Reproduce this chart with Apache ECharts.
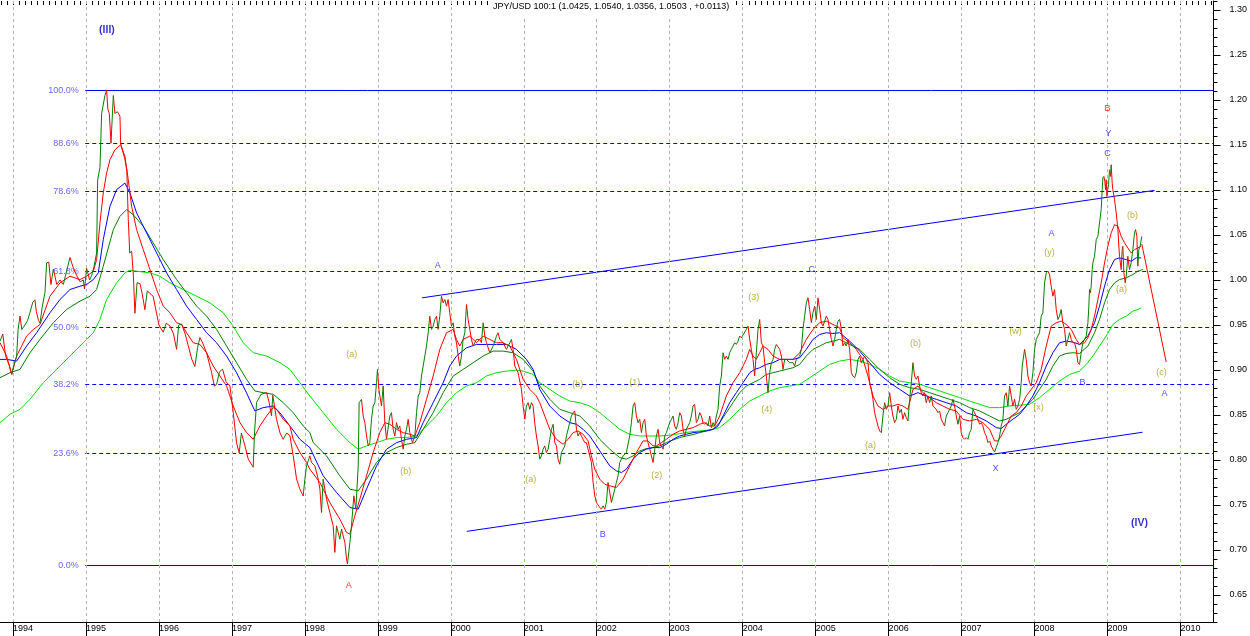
<!DOCTYPE html>
<html>
<head>
<meta charset="utf-8">
<title>JPY/USD 100:1</title>
<script src="https://cdn.jsdelivr.net/npm/echarts@6/dist/echarts.min.js"></script>
<style>
  html, body { margin: 0; padding: 0; background: #fff; }
  #main { width: 1250px; height: 636px; }
</style>
</head>
<body>
<div id="main"></div>
<script>
// weekly-ish closes, [decimal year, price]
const price = [
  [1993.822,0.932],[1993.86,0.94],[1993.90,0.915],[1993.95,0.905],[1993.982,0.895],[1994.01,0.905],[1994.05,0.915],[1994.07,0.945],[1994.096,0.960],[1994.12,0.945],[1994.164,0.950],[1994.20,0.955],[1994.233,0.964],[1994.27,0.975],[1994.301,0.978],[1994.32,0.965],[1994.35,0.955],[1994.37,0.952],[1994.40,0.97],[1994.438,0.986],[1994.461,1.019],[1994.49,1.020],[1994.52,0.995],[1994.553,1.012],[1994.60,0.995],[1994.644,1.000],[1994.69,0.995],[1994.735,1.010],[1994.781,1.025],[1994.82,1.015],[1994.872,1.005],[1994.92,0.998],[1994.964,1.000],[1994.98,0.99],[1995.009,1.013],[1995.05,1.00],[1995.078,1.005],[1995.11,1.015],[1995.146,1.030],[1995.160,1.111],[1995.192,1.125],[1995.215,1.185],[1995.260,1.205],[1995.283,1.211],[1995.30,1.19],[1995.320,1.185],[1995.343,1.152],[1995.36,1.18],[1995.375,1.205],[1995.397,1.185],[1995.43,1.187],[1995.466,1.182],[1995.475,1.152],[1995.534,1.134],[1995.56,1.122],[1995.580,1.067],[1995.60,1.03],[1995.626,1.032],[1995.65,1.005],[1995.671,0.963],[1995.70,0.997],[1995.740,0.996],[1995.77,0.985],[1995.808,0.967],[1995.84,0.988],[1995.877,0.985],[1995.92,0.982],[1995.968,0.963],[1996.00,0.950],[1996.059,0.942],[1996.10,0.952],[1996.151,0.949],[1996.20,0.940],[1996.242,0.923],[1996.27,0.950],[1996.311,0.951],[1996.36,0.940],[1996.402,0.927],[1996.45,0.912],[1996.493,0.904],[1996.53,0.925],[1996.562,0.936],[1996.60,0.930],[1996.653,0.919],[1996.722,0.897],[1996.76,0.882],[1996.790,0.884],[1996.83,0.898],[1996.872,0.901],[1996.92,0.887],[1996.973,0.882],[1997.018,0.853],[1997.064,0.819],[1997.100,0.808],[1997.13,0.830],[1997.178,0.816],[1997.224,0.801],[1997.292,0.792],[1997.31,0.830],[1997.338,0.864],[1997.40,0.873],[1997.475,0.875],[1997.51,0.864],[1997.543,0.849],[1997.56,0.872],[1997.612,0.845],[1997.66,0.830],[1997.703,0.823],[1997.75,0.830],[1997.795,0.827],[1997.84,0.805],[1997.886,0.779],[1997.93,0.768],[1997.977,0.760],
  [1998.000,0.7787],[1998.023,0.7935],[1998.068,0.8046],[1998.091,0.7972],[1998.137,0.7935],[1998.183,0.7787],[1998.206,0.7676],[1998.228,0.7417],[1998.251,0.7787],[1998.297,0.7565],[1998.342,0.7417],[1998.388,0.7269],[1998.411,0.6973],[1998.434,0.7269],[1998.479,0.7121],[1998.502,0.7232],[1998.548,0.7084],[1998.571,0.6899],[1998.584,0.6844],[1998.617,0.7084],[1998.639,0.7269],[1998.671,0.7602],[1998.699,0.7454],[1998.731,0.7935],[1998.744,0.8637],[1998.776,0.8674],[1998.799,0.8489],[1998.822,0.8415],[1998.845,0.8267],[1998.868,0.8157],[1998.890,0.8193],[1998.913,0.8452],[1998.936,0.8600],[1998.959,0.8637],[1998.982,0.8859],[1998.995,0.9007],[1999.014,0.8785],[1999.050,0.8600],[1999.073,0.8822],[1999.096,0.8415],[1999.119,0.8230],[1999.164,0.8489],[1999.187,0.8526],[1999.210,0.8341],[1999.233,0.8267],[1999.256,0.8415],[1999.279,0.8341],[1999.301,0.8378],[1999.324,0.8230],[1999.347,0.8120],[1999.370,0.8267],[1999.393,0.8341],[1999.416,0.8452],[1999.438,0.8304],[1999.475,0.8193],[1999.507,0.8267],[1999.530,0.8526],[1999.553,0.8711],[1999.575,0.8748],[1999.598,0.8933],[1999.621,0.9044],[1999.667,0.9266],[1999.690,0.9414],[1999.712,0.9598],[1999.735,0.9451],[1999.758,0.9488],[1999.781,0.9561],[1999.804,0.9598],[1999.826,0.9451],[1999.849,0.9598],[1999.872,0.9820],[1999.895,0.9746],[1999.918,0.9783],[1999.941,0.9709],[1999.963,0.9783],[1999.986,0.9635],[2000.009,0.9488],[2000.032,0.9525],[2000.055,0.9377],[2000.078,0.9303],[2000.101,0.9155],[2000.123,0.9044],[2000.146,0.9155],[2000.169,0.9340],[2000.192,0.9414],[2000.215,0.9728],[2000.237,0.9561],[2000.260,0.9451],[2000.283,0.9340],[2000.306,0.9266],[2000.352,0.9340],[2000.397,0.9340],[2000.420,0.9303],[2000.443,0.9525],[2000.466,0.9377],[2000.489,0.9303],[2000.534,0.9192],[2000.580,0.9266],[2000.626,0.9377],[2000.648,0.9414],[2000.671,0.9340],[2000.717,0.9303],[2000.763,0.9229],[2000.808,0.9303],[2000.831,0.9340],[2000.854,0.9229],[2000.877,0.9044],[2000.922,0.8970],[2000.968,0.8785],[2000.991,0.8600],[2001.014,0.8452],[2001.036,0.8600],[2001.059,0.8637],[2001.082,0.8563],[2001.105,0.8637],[2001.128,0.8600],[2001.150,0.8415],[2001.173,0.8267],[2001.196,0.8157],[2001.219,0.8009],
  [2001.242,0.8046],[2001.265,0.8120],[2001.288,0.8157],[2001.310,0.8083],[2001.333,0.8120],[2001.356,0.8230],[2001.379,0.8341],[2001.402,0.8397],[2001.425,0.8193],[2001.448,0.8157],[2001.470,0.8009],[2001.493,0.7953],[2001.516,0.8083],[2001.539,0.8120],[2001.562,0.8157],[2001.585,0.8267],[2001.630,0.8415],[2001.653,0.8489],[2001.676,0.8526],[2001.699,0.8545],[2001.722,0.8341],[2001.744,0.8267],[2001.767,0.8304],[2001.790,0.8267],[2001.813,0.8230],[2001.836,0.8193],[2001.858,0.8193],[2001.881,0.8120],[2001.904,0.8046],[2001.927,0.7972],[2001.950,0.7750],[2001.973,0.7602],[2001.995,0.7528],[2002.041,0.7473],[2002.064,0.7454],[2002.087,0.7491],[2002.110,0.7454],[2002.132,0.7528],[2002.155,0.7750],[2002.178,0.7731],[2002.201,0.7528],[2002.224,0.7602],[2002.247,0.7676],[2002.269,0.7750],[2002.292,0.7824],[2002.315,0.7972],[2002.338,0.8009],[2002.361,0.8046],[2002.406,0.8083],[2002.452,0.8267],[2002.475,0.8415],[2002.498,0.8600],[2002.521,0.8637],[2002.543,0.8489],[2002.566,0.8415],[2002.589,0.8452],[2002.612,0.8304],[2002.635,0.8415],[2002.658,0.8452],[2002.680,0.8267],[2002.703,0.8193],[2002.726,0.8120],[2002.749,0.8046],[2002.772,0.7972],[2002.795,0.8120],[2002.817,0.8267],[2002.840,0.8341],[2002.863,0.8193],[2002.886,0.8157],[2002.909,0.8120],[2002.932,0.8267],[2002.954,0.8304],[2003.000,0.8415],[2003.023,0.8452],[2003.046,0.8489],[2003.068,0.8378],[2003.091,0.8341],[2003.114,0.8415],[2003.137,0.8526],[2003.160,0.8489],[2003.183,0.8341],[2003.205,0.8267],[2003.228,0.8341],[2003.251,0.8378],[2003.274,0.8415],[2003.297,0.8489],[2003.320,0.8600],[2003.342,0.8619],[2003.365,0.8415],[2003.388,0.8452],[2003.411,0.8526],[2003.434,0.8489],[2003.457,0.8415],[2003.479,0.8397],[2003.502,0.8415],[2003.525,0.8378],[2003.548,0.8489],[2003.571,0.8360],[2003.594,0.8415],[2003.616,0.8378],[2003.639,0.8489],[2003.662,0.8563],[2003.685,0.8822],[2003.708,0.8933],[2003.731,0.9192],[2003.753,0.9118],[2003.776,0.9155],[2003.799,0.9118],[2003.822,0.9192],[2003.845,0.9229],[2003.867,0.9247],[2003.890,0.9303],[2003.913,0.9284],[2003.936,0.9321],[2003.959,0.9377],[2003.982,0.9358],[2004.005,0.9358],[2004.050,0.9451],[2004.073,0.9488],[2004.096,0.9340],[2004.119,0.9229],[2004.142,0.9118],[2004.164,0.8933],[2004.187,0.9192],[2004.210,0.9451],[2004.233,0.9561],[2004.256,0.9303],[2004.279,0.9266],[2004.301,0.9081],[2004.324,0.8933],[2004.347,0.8748],[2004.370,0.8970],[2004.393,0.9081],[2004.416,0.9118],[2004.438,0.9229],[2004.461,0.9284],[2004.484,0.9266],[2004.507,0.9229],[2004.530,0.9155],[2004.553,0.9007],[2004.575,0.9118],[2004.598,0.9118],[2004.644,0.9081],[2004.690,0.9081],[2004.712,0.9044],[2004.735,0.9118],[2004.781,0.9155],[2004.804,0.9229],[2004.826,0.9451],[2004.849,0.9598],[2004.872,0.9746],[2004.895,0.9802],[2004.918,0.9672],[2004.941,0.9525],[2004.963,0.9635],[2004.986,0.9709],[2005.009,0.9561],[2005.032,0.9802],[2005.055,0.9672],[2005.078,0.9525],[2005.100,0.9488],[2005.123,0.9543],[2005.146,0.9598],[2005.169,0.9561],[2005.192,0.9451],[2005.215,0.9340],[2005.238,0.9266],[2005.260,0.9340],[2005.283,0.9451],[2005.306,0.9543],[2005.329,0.9561],
  [2005.352,0.9451],[2005.374,0.9266],[2005.397,0.9303],[2005.420,0.9266],[2005.443,0.9340],[2005.466,0.9229],[2005.489,0.8970],[2005.511,0.8933],[2005.534,0.8914],[2005.557,0.8970],[2005.580,0.9118],[2005.603,0.9155],[2005.626,0.9081],[2005.648,0.9118],[2005.671,0.9155],[2005.694,0.9118],[2005.717,0.9081],[2005.740,0.8859],[2005.763,0.8785],[2005.785,0.8674],[2005.808,0.8526],[2005.831,0.8452],[2005.854,0.8378],[2005.877,0.8323],[2005.900,0.8304],[2005.922,0.8489],[2005.945,0.8637],[2005.968,0.8563],[2005.991,0.8600],[2006.014,0.8748],[2006.037,0.8600],[2006.059,0.8489],[2006.082,0.8415],[2006.105,0.8452],[2006.128,0.8600],[2006.151,0.8526],[2006.174,0.8563],[2006.196,0.8452],[2006.219,0.8526],[2006.242,0.8471],[2006.265,0.8434],[2006.288,0.8674],[2006.311,0.8859],[2006.333,0.9081],[2006.356,0.8933],[2006.379,0.8896],[2006.402,0.8933],[2006.425,0.8822],[2006.447,0.8748],[2006.470,0.8711],[2006.493,0.8748],[2006.516,0.8637],[2006.539,0.8711],[2006.562,0.8637],[2006.584,0.8711],[2006.607,0.8600],[2006.630,0.8582],[2006.653,0.8563],[2006.676,0.8526],[2006.699,0.8545],[2006.721,0.8452],[2006.744,0.8415],[2006.767,0.8378],[2006.790,0.8489],[2006.813,0.8526],[2006.836,0.8563],[2006.858,0.8600],[2006.881,0.8674],[2006.904,0.8600],[2006.927,0.8489],[2006.950,0.8397],[2006.973,0.8489],[2006.995,0.8304],[2007.018,0.8249],[2007.041,0.8230],[2007.064,0.8249],[2007.087,0.8230],[2007.110,0.8304],[2007.132,0.8341],[2007.155,0.8563],[2007.178,0.8526],[2007.201,0.8489],[2007.224,0.8452],[2007.247,0.8397],[2007.269,0.8415],[2007.292,0.8378],[2007.315,0.8304],[2007.338,0.8267],[2007.361,0.8193],[2007.384,0.8212],[2007.406,0.8157],[2007.429,0.8120],[2007.452,0.8090],[2007.475,0.8138],[2007.498,0.8193],[2007.521,0.8267],[2007.543,0.8378],[2007.566,0.8452],[2007.589,0.8711],[2007.612,0.8748],[2007.635,0.8600],[2007.658,0.8822],[2007.680,0.8711],[2007.703,0.8600],[2007.726,0.8674],[2007.749,0.8563],[2007.772,0.8600],[2007.795,0.8674],[2007.817,0.8859],[2007.831,0.9044],[2007.863,0.9229],[2007.886,0.9118],[2007.909,0.8933],[2007.932,0.8859],[2007.954,0.8822],[2007.977,0.8970],[2008.000,0.9229],[2008.023,0.9340],[2008.046,0.9377],[2008.068,0.9414],[2008.091,0.9598],[2008.114,0.9635],[2008.137,0.9968],[2008.160,1.0079],[2008.183,1.0098],[2008.205,1.0061],[2008.228,0.9931],[2008.251,0.9820],[2008.274,0.9894],[2008.297,0.9672],[2008.320,0.9561],[2008.342,0.9598],[2008.365,0.9672],[2008.388,0.9525],[2008.411,0.9451],[2008.434,0.9266],[2008.457,0.9340],[2008.480,0.9414],[2008.502,0.9340],[2008.525,0.9303],[2008.548,0.9303],[2008.571,0.9229],[2008.594,0.9081],[2008.616,0.9062],
  [2008.639,0.9192],[2008.662,0.9303],[2008.685,0.9303],[2008.708,0.9377],[2008.731,0.9524],[2008.744,0.9709],[2008.753,0.9894],[2008.765,0.9857],[2008.776,0.9931],[2008.790,1.0116],[2008.799,1.0190],[2008.822,1.0264],[2008.845,1.0449],[2008.868,1.0486],[2008.890,1.0634],[2008.913,1.0782],[2008.927,1.1004],[2008.936,1.1133],[2008.950,1.1151],[2008.963,1.1096],[2008.973,1.1004],[2008.982,1.1114],[2008.991,1.0929],[2009.004,1.1004],[2009.014,1.1059],[2009.027,1.1225],[2009.041,1.1151],[2009.050,1.1281],[2009.064,1.1077],[2009.073,1.1004],[2009.096,1.0893],[2009.119,1.0745],[2009.142,1.0560],[2009.164,1.0264],[2009.187,1.0116],[2009.201,1.0338],[2009.210,1.0375],[2009.224,1.0079],[2009.242,0.9968],[2009.256,1.0042],[2009.278,1.0264],[2009.301,1.0116],[2009.324,1.0190],[2009.347,1.0338],[2009.370,1.0523],[2009.384,1.0560],[2009.402,1.0486],[2009.415,1.0153],[2009.429,1.0338],[2009.447,1.0375],[2009.470,1.0486]
];

// fast average (red)
const maFast = [
  [1993.822,0.9303],[1993.913,0.9155],[1993.982,0.8951],[1994.050,0.9155],[1994.187,0.9377],[1994.279,0.9451],[1994.370,0.9506],[1994.507,0.9820],[1994.644,0.9968],[1994.781,1.0042],[1994.918,1.0005],[1995.009,1.0042],[1995.101,1.0098],[1995.146,1.0227],[1995.192,1.0634],[1995.237,1.0967],[1995.283,1.1188],[1995.329,1.1336],[1995.397,1.1447],[1995.475,1.1503],[1995.534,1.1373],[1995.580,1.1114],[1995.626,1.0819],[1995.694,1.0560],[1995.785,1.0338],[1995.877,1.0116],[1995.968,0.9894],[1996.059,0.9710],[1996.151,0.9636],[1996.242,0.9525],[1996.311,0.9506],[1996.379,0.9414],[1996.470,0.9303],[1996.562,0.9284],[1996.653,0.9192],[1996.744,0.9044],[1996.836,0.8933],[1996.927,0.8822],[1997.018,0.8600],[1997.110,0.8415],[1997.201,0.8304],[1997.292,0.8230],[1997.384,0.8378],[1997.475,0.8489],[1997.566,0.8582],[1997.612,0.8563],[1997.703,0.8452],[1997.795,0.8378],[1997.840,0.8230],[1997.932,0.8083],[1998.023,0.7972],
  [1998.068,0.7898],[1998.206,0.7750],[1998.342,0.7528],[1998.479,0.7343],[1998.571,0.7195],[1998.617,0.7177],[1998.685,0.7380],[1998.753,0.7565],[1998.845,0.7824],[1998.936,0.8083],[1999.027,0.8304],[1999.096,0.8415],[1999.164,0.8397],[1999.256,0.8341],[1999.347,0.8304],[1999.438,0.8286],[1999.507,0.8267],[1999.575,0.8415],[1999.667,0.8674],[1999.758,0.8933],[1999.849,0.9229],[1999.941,0.9414],[2000.032,0.9451],[2000.078,0.9340],[2000.123,0.9266],[2000.169,0.9340],[2000.260,0.9377],[2000.352,0.9303],[2000.443,0.9377],[2000.534,0.9340],[2000.626,0.9303],[2000.717,0.9303],[2000.808,0.9266],[2000.900,0.9118],[2000.991,0.8896],[2001.082,0.8785],[2001.173,0.8711],[2001.219,0.8637],
  [2001.356,0.8341],[2001.448,0.8230],[2001.539,0.8175],[2001.607,0.8230],[2001.676,0.8304],[2001.744,0.8323],[2001.813,0.8286],[2001.881,0.8212],[2001.927,0.8046],[2001.973,0.7898],[2002.041,0.7787],[2002.110,0.7731],[2002.178,0.7713],[2002.269,0.7694],[2002.361,0.7787],[2002.452,0.7935],[2002.543,0.8083],[2002.635,0.8212],[2002.703,0.8212],[2002.772,0.8157],[2002.817,0.8157],[2002.886,0.8193],[2002.954,0.8230],[2003.046,0.8286],[2003.137,0.8323],[2003.228,0.8341],[2003.320,0.8360],[2003.411,0.8397],[2003.479,0.8415],[2003.548,0.8378],[2003.616,0.8378],[2003.685,0.8489],[2003.776,0.8711],[2003.867,0.8859],[2003.959,0.8970],[2004.050,0.9118],[2004.096,0.9229],[2004.142,0.9155],[2004.187,0.9118],[2004.233,0.9192],[2004.279,0.9266],[2004.347,0.9229],[2004.416,0.9155],[2004.507,0.9118],[2004.598,0.9118],[2004.690,0.9118],[2004.781,0.9192],[2004.872,0.9340],[2004.963,0.9451],[2005.055,0.9525],[2005.146,0.9543],[2005.238,0.9506],[2005.329,0.9469],
  [2005.374,0.9358],[2005.466,0.9303],[2005.557,0.9229],[2005.648,0.9118],[2005.717,0.8933],[2005.785,0.8711],[2005.854,0.8600],[2005.922,0.8563],[2005.991,0.8600],[2006.059,0.8600],[2006.128,0.8619],[2006.196,0.8600],[2006.265,0.8563],[2006.333,0.8785],[2006.402,0.8822],[2006.470,0.8748],[2006.562,0.8693],[2006.653,0.8637],[2006.744,0.8600],[2006.836,0.8563],[2006.927,0.8545],[2007.018,0.8452],[2007.110,0.8434],[2007.201,0.8452],[2007.292,0.8415],[2007.384,0.8341],[2007.452,0.8212],[2007.498,0.8212],[2007.543,0.8267],[2007.612,0.8378],[2007.680,0.8489],[2007.749,0.8526],[2007.817,0.8600],[2007.886,0.8711],[2007.954,0.8785],[2008.023,0.8859],[2008.091,0.9007],[2008.160,0.9266],[2008.228,0.9488],[2008.297,0.9525],[2008.365,0.9543],[2008.434,0.9506],[2008.502,0.9451],[2008.571,0.9340],[2008.616,0.9284],
  [2008.685,0.9303],[2008.731,0.9358],[2008.776,0.9451],[2008.822,0.9598],[2008.868,0.9783],[2008.913,0.9968],[2008.959,1.0190],[2009.004,1.0375],[2009.050,1.0523],[2009.096,1.0615],[2009.142,1.0597],[2009.187,1.0486],[2009.233,1.0412],[2009.278,1.0356],[2009.324,1.0301],[2009.370,1.0338],[2009.415,1.0356],[2009.461,1.0375]
];

// medium average (blue)
const maMid = [
  [1993.822,0.9118],[1993.913,0.9118],[1994.050,0.9099],[1994.187,0.9266],[1994.324,0.9414],[1994.507,0.9636],[1994.644,0.9783],[1994.781,0.9894],[1994.918,0.9931],[1995.009,0.9950],[1995.101,1.0005],[1995.169,1.0079],[1995.237,1.0449],[1995.329,1.0819],[1995.420,1.1004],[1995.534,1.1077],[1995.603,1.0967],[1995.694,1.0745],[1995.831,1.0523],[1995.968,1.0301],[1996.105,1.0079],[1996.242,0.9894],[1996.379,0.9710],[1996.516,0.9562],[1996.653,0.9414],[1996.790,0.9303],[1996.927,0.9155],[1997.064,0.8970],[1997.201,0.8745],[1997.315,0.8545],[1997.429,0.8582],[1997.566,0.8600],[1997.658,0.8526],[1997.795,0.8378],[1997.932,0.8230],[1998.069,0.8138],
  [1998.251,0.7824],[1998.434,0.7639],[1998.617,0.7472],[1998.731,0.7454],[1998.845,0.7676],[1998.982,0.7935],[1999.119,0.8120],[1999.256,0.8193],[1999.393,0.8230],[1999.530,0.8249],[1999.621,0.8415],[1999.758,0.8637],[1999.895,0.8859],[1999.986,0.9044],[2000.078,0.9155],[2000.215,0.9247],[2000.352,0.9284],[2000.489,0.9284],[2000.626,0.9284],[2000.763,0.9284],[2000.900,0.9229],[2001.036,0.9118],[2001.128,0.9007],
  [2001.219,0.8785],[2001.356,0.8600],[2001.493,0.8489],[2001.630,0.8415],[2001.722,0.8397],[2001.813,0.8341],[2001.904,0.8267],[2001.995,0.8157],[2002.087,0.8046],[2002.178,0.7935],[2002.269,0.7879],[2002.338,0.7861],[2002.406,0.7898],[2002.498,0.8009],[2002.589,0.8083],[2002.680,0.8120],[2002.772,0.8138],[2002.863,0.8138],[2002.954,0.8175],[2003.046,0.8230],[2003.137,0.8267],[2003.228,0.8286],[2003.320,0.8304],[2003.411,0.8312],[2003.502,0.8323],[2003.594,0.8341],[2003.662,0.8378],[2003.731,0.8489],[2003.822,0.8637],[2003.913,0.8748],[2004.005,0.8859],[2004.096,0.8970],[2004.164,0.9007],[2004.233,0.9025],[2004.324,0.9062],[2004.416,0.9081],[2004.507,0.9118],[2004.598,0.9118],[2004.690,0.9118],[2004.781,0.9136],[2004.872,0.9229],[2004.963,0.9340],[2005.055,0.9395],[2005.146,0.9414],[2005.238,0.9406],[2005.329,0.9414],
  [2005.466,0.9321],[2005.603,0.9210],[2005.740,0.9081],[2005.877,0.8951],[2006.014,0.8859],[2006.151,0.8785],[2006.288,0.8711],[2006.402,0.8748],[2006.516,0.8711],[2006.653,0.8674],[2006.790,0.8637],[2006.927,0.8600],[2007.064,0.8526],[2007.201,0.8489],[2007.338,0.8434],[2007.475,0.8360],[2007.543,0.8349],[2007.612,0.8397],[2007.703,0.8452],[2007.795,0.8508],[2007.886,0.8600],[2007.977,0.8711],[2008.068,0.8859],[2008.160,0.9044],[2008.251,0.9192],[2008.342,0.9303],[2008.434,0.9321],[2008.525,0.9310],[2008.616,0.9284],
  [2008.731,0.9377],[2008.822,0.9524],[2008.890,0.9709],[2008.959,0.9931],[2009.027,1.0116],[2009.096,1.0227],[2009.164,1.0246],[2009.256,1.0227],[2009.324,1.0209],[2009.393,1.0246],[2009.461,1.0246]
];

// slower average (dark green)
const maSlow = [
  [1993.822,0.8915],[1993.959,0.8970],[1994.096,0.9007],[1994.233,0.9192],[1994.370,0.9340],[1994.553,0.9525],[1994.735,0.9673],[1994.918,0.9765],[1995.055,0.9820],[1995.146,0.9894],[1995.237,1.0153],[1995.375,1.0560],[1995.466,1.0708],[1995.557,1.0782],[1995.648,1.0726],[1995.785,1.0597],[1995.922,1.0412],[1996.059,1.0227],[1996.242,1.0005],[1996.379,0.9857],[1996.516,0.9710],[1996.653,0.9599],[1996.790,0.9451],[1996.927,0.9266],[1997.064,0.9081],[1997.201,0.8896],[1997.315,0.8767],[1997.429,0.8748],[1997.566,0.8730],[1997.703,0.8637],[1997.840,0.8526],[1997.977,0.8378],[1998.069,0.8304],
  [1998.114,0.8193],[1998.297,0.8046],[1998.479,0.7824],[1998.617,0.7676],[1998.731,0.7657],[1998.845,0.7787],[1998.982,0.7972],[1999.119,0.8083],[1999.256,0.8138],[1999.393,0.8175],[1999.507,0.8193],[1999.621,0.8341],[1999.758,0.8526],[1999.895,0.8748],[2000.032,0.8933],[2000.169,0.9007],[2000.306,0.9081],[2000.443,0.9155],[2000.580,0.9210],[2000.717,0.9210],[2000.854,0.9192],[2000.991,0.9118],[2001.128,0.8988],
  [2001.219,0.8822],[2001.356,0.8674],[2001.493,0.8563],[2001.630,0.8526],[2001.767,0.8489],[2001.904,0.8378],[2002.041,0.8230],[2002.178,0.8120],[2002.315,0.8027],[2002.406,0.8009],[2002.498,0.8046],[2002.589,0.8101],[2002.680,0.8127],[2002.772,0.8138],[2002.863,0.8157],[2002.954,0.8193],[2003.046,0.8223],[2003.137,0.8249],[2003.228,0.8267],[2003.320,0.8282],[2003.411,0.8304],[2003.502,0.8323],[2003.594,0.8341],[2003.685,0.8415],[2003.776,0.8526],[2003.867,0.8637],[2003.959,0.8748],[2004.050,0.8822],[2004.142,0.8859],[2004.233,0.8896],[2004.324,0.8951],[2004.416,0.8970],[2004.507,0.8988],[2004.598,0.9007],[2004.690,0.9025],[2004.781,0.9062],[2004.872,0.9155],[2004.963,0.9229],[2005.055,0.9266],[2005.146,0.9303],[2005.238,0.9321],[2005.329,0.9340],
  [2005.466,0.9284],[2005.603,0.9229],[2005.740,0.9118],[2005.877,0.9007],[2006.014,0.8914],[2006.151,0.8841],[2006.288,0.8804],[2006.425,0.8785],[2006.562,0.8748],[2006.699,0.8711],[2006.836,0.8674],[2006.973,0.8637],[2007.110,0.8582],[2007.247,0.8545],[2007.384,0.8489],[2007.521,0.8434],[2007.612,0.8452],[2007.703,0.8489],[2007.795,0.8526],[2007.886,0.8600],[2007.977,0.8674],[2008.068,0.8785],[2008.160,0.8896],[2008.251,0.9044],[2008.342,0.9155],[2008.434,0.9184],[2008.525,0.9192],[2008.616,0.9184],
  [2008.731,0.9266],[2008.822,0.9414],[2008.890,0.9562],[2008.959,0.9746],[2009.027,0.9894],[2009.096,0.9968],[2009.164,1.0005],[2009.256,1.0024],[2009.347,1.0061],[2009.415,1.0098],[2009.484,1.0116]
];

// long average (light green)
const maLong = [
  [1993.822,0.8415],[1993.959,0.8508],[1994.096,0.8563],[1994.233,0.8674],[1994.416,0.8859],[1994.598,0.9007],[1994.781,0.9155],[1994.964,0.9303],[1995.101,0.9414],[1995.192,0.9562],[1995.283,0.9783],[1995.420,0.9968],[1995.534,1.0079],[1995.603,1.0109],[1995.694,1.0098],[1995.877,1.0079],[1996.014,1.0042],[1996.151,0.9968],[1996.333,0.9894],[1996.516,0.9820],[1996.699,0.9746],[1996.881,0.9636],[1997.018,0.9488],[1997.155,0.9303],[1997.292,0.9192],[1997.475,0.9155],[1997.658,0.9081],[1997.795,0.9007],[1997.932,0.8859],[1998.069,0.8711],
  [1998.251,0.8526],[1998.434,0.8341],[1998.617,0.8193],[1998.731,0.8120],[1998.845,0.8157],[1998.982,0.8193],[1999.119,0.8230],[1999.256,0.8249],[1999.393,0.8249],[1999.530,0.8267],[1999.667,0.8378],[1999.804,0.8489],[1999.941,0.8637],[2000.078,0.8748],[2000.215,0.8822],[2000.352,0.8859],[2000.489,0.8933],[2000.626,0.8970],[2000.763,0.8988],[2000.900,0.8999],[2000.991,0.8988],[2001.128,0.8951],
  [2001.219,0.8859],[2001.356,0.8785],[2001.493,0.8711],[2001.630,0.8655],[2001.767,0.8637],[2001.904,0.8600],[2002.041,0.8526],[2002.178,0.8434],[2002.315,0.8341],[2002.452,0.8286],[2002.589,0.8267],[2002.726,0.8267],[2002.863,0.8267],[2003.000,0.8275],[2003.137,0.8293],[2003.274,0.8312],[2003.411,0.8323],[2003.548,0.8334],[2003.685,0.8360],[2003.822,0.8452],[2003.959,0.8563],[2004.096,0.8655],[2004.233,0.8711],[2004.370,0.8767],[2004.507,0.8804],[2004.644,0.8822],[2004.781,0.8841],[2004.918,0.8914],[2005.055,0.8988],[2005.192,0.9062],[2005.329,0.9099],
  [2005.466,0.9118],[2005.603,0.9099],[2005.740,0.9062],[2005.877,0.9007],[2006.014,0.8933],[2006.151,0.8877],[2006.288,0.8859],[2006.425,0.8841],[2006.562,0.8804],[2006.699,0.8767],[2006.836,0.8730],[2006.973,0.8693],[2007.110,0.8655],[2007.247,0.8619],[2007.384,0.8582],[2007.521,0.8582],[2007.658,0.8600],[2007.795,0.8608],[2007.932,0.8619],[2008.068,0.8693],[2008.205,0.8785],[2008.342,0.8877],[2008.480,0.8951],[2008.616,0.8988],
  [2008.708,0.9062],[2008.799,0.9155],[2008.890,0.9266],[2008.982,0.9377],[2009.073,0.9506],[2009.164,0.9562],[2009.256,0.9598],[2009.347,0.9654],[2009.415,0.9672],[2009.461,0.9691]
];

// retracement levels between the 1998 low and the 1995 high
const fibLevels = [0.68278, 0.80722, 0.88389, 0.94722, 1.00944, 1.09833, 1.15167, 1.21056];
const fibNames = ['0.0%', '23.6%', '38.2%', '50.0%', '61.8%', '78.6%', '88.6%', '100.0%'];
const fibStart = 1994.99;

const upperChannel = [[1999.607, 0.9802], [2009.644, 1.0996]];
const lowerChannel = [[2000.219, 0.7207], [2009.479, 0.8308]];
const projection = [[2009.470, 1.0400], [2009.804, 0.9088]];

// wave counts: [year, price, text, kind]
const waveLabels = [
  [1995.288, 1.2778, '(III)', 'degree'],
  [1998.603, 0.6603, 'A', 'red'],
  [1998.644, 0.9170, '(a)', 'minor'],
  [1999.384, 0.7872, '(b)', 'minor'],
  [1999.822, 1.0164, 'A', 'blue'],
  [2001.096, 0.7787, '(a)', 'minor'],
  [2001.740, 0.8840, '(b)', 'minor'],
  [2002.082, 0.7171, 'B', 'blue'],
  [2002.521, 0.8859, '(1)', 'minor'],
  [2002.822, 0.7828, '(2)', 'minor'],
  [2004.151, 0.9802, '(3)', 'minor'],
  [2004.329, 0.8560, '(4)', 'minor'],
  [2004.945, 1.0122, 'C', 'blue'],
  [2005.753, 0.8161, '(a)', 'minor'],
  [2006.370, 0.9292, '(b)', 'minor'],
  [2007.466, 0.7905, 'X', 'blue'],
  [2007.740, 0.9428, '(w)', 'minor'],
  [2008.055, 0.8578, '(x)', 'minor'],
  [2008.205, 1.0308, '(y)', 'minor'],
  [2008.233, 1.0515, 'A', 'blue'],
  [2008.658, 0.8866, 'B', 'blue'],
  [2009.000, 1.1902, 'B', 'red'],
  [2009.014, 1.1628, 'Y', 'blue'],
  [2009.000, 1.1408, 'C', 'blue'],
  [2009.192, 0.9894, '(a)', 'minor'],
  [2009.342, 1.0715, '(b)', 'minor'],
  [2009.740, 0.8970, '(c)', 'minor'],
  [2009.781, 0.8741, 'A', 'blue'],
  [2009.438, 0.7299, '(IV)', 'degree']
];

const years = [1994, 1995, 1996, 1997, 1998, 1999, 2000, 2001, 2002, 2003, 2004, 2005, 2006, 2007, 2008, 2009, 2010];
const priceTicks = [0.65, 0.70, 0.75, 0.80, 0.85, 0.90, 0.95, 1.00, 1.05, 1.10, 1.15, 1.20, 1.25, 1.30];

const xMin = 1993.822;
const xMax = 2010.452;
const FONT = 'Arial, "Liberation Sans", sans-serif';

const labelColors = {
  minor: '#a8a000',
  blue: '#2020ff',
  red: '#ff0000',
  degree: '#0000c0',
};

// monthly minor ticks along the time axis
const monthTicks = [];
for (let y = 1993; y <= 2010; y++) {
  for (let m = 0; m < 12; m++) {
    const t = y + m / 12;
    if (t > xMin && t < xMax) monthTicks.push(t);
  }
}

// split the close line into rising (green) and falling (red) pieces
const splitByDirection = (points) => {
  const up = [];
  const down = [];
  let upLast = -1;
  let downLast = -1;
  for (let i = 1; i < points.length; i++) {
    const rising = points[i][1] >= points[i - 1][1];
    const target = rising ? up : down;
    const last = rising ? upLast : downLast;
    if (last !== i - 1) {
      if (target.length) target.push([points[i - 1][0], '-']);
      target.push(points[i - 1]);
    }
    target.push(points[i]);
    if (rising) upLast = i;
    else downLast = i;
  }
  return { up, down };
};

const { up: priceUp, down: priceDown } = splitByDirection(price);

const plainLine = (name, data, color, z, type) => ({
  name,
  type: 'line',
  data,
  symbol: 'none',
  z,
  lineStyle: { color, width: 1, type: type || 'solid' },
  silent: true,
});

// one horizontal series per retracement level: solid for 0% and 100%, dashed between
const fibSeries = fibLevels.map((v, i) => {
  const solid = i === 0 || i === fibLevels.length - 1;
  return plainLine('Fib ' + fibNames[i], [[fibStart, v], [xMax, v]], '#0000ff', 2, solid ? 'solid' : [4, 3]);
});

const option = {
  animation: false,
  backgroundColor: '#ffffff',
  textStyle: { fontFamily: FONT },
  graphic: [
    {
      type: 'text',
      left: 489,
      top: 0,
      z: 100,
      style: {
        text: 'JPY/USD 100:1 (1.0425, 1.0540, 1.0356, 1.0503 , +0.0113)',
        fill: '#000',
        fontSize: 9,
        fontFamily: FONT,
        backgroundColor: '#ffffff',
        padding: [2, 4, 5, 4],
      },
    },
  ],
  grid: { left: 0, right: 36, top: 1, bottom: 14 },
  xAxis: [
    {
      type: 'value',
      min: xMin,
      max: xMax,
      axisLine: { show: true, lineStyle: { color: '#000', width: 1 } },
      axisTick: { show: true, customValues: years, length: 14, lineStyle: { color: '#000' } },
      axisLabel: {
        customValues: years,
        formatter: (v) => String(Math.round(v)),
        align: 'left',
        margin: 2,
        fontSize: 9,
        color: '#000',
        fontFamily: FONT,
      },
      splitLine: { show: false },
    },
    {
      type: 'value',
      min: xMin,
      max: xMax,
      axisLine: { show: false },
      axisTick: { show: true, inside: true, customValues: monthTicks, length: 4, lineStyle: { color: '#000' } },
      axisLabel: { show: false },
      splitLine: { show: false },
    },
  ],
  yAxis: [
    {
      type: 'value',
      position: 'right',
      min: 0.62,
      max: 1.31,
      axisLine: { show: true, lineStyle: { color: '#000', width: 1 } },
      axisTick: { show: true, customValues: priceTicks, length: 7, lineStyle: { color: '#000' } },
      axisLabel: {
        customValues: priceTicks,
        formatter: (v) => v.toFixed(2),
        margin: 16,
        fontSize: 9,
        color: '#000',
        fontFamily: FONT,
      },
      splitLine: { show: false },
    },
    {
      type: 'value',
      position: 'right',
      min: 0.62,
      max: 1.31,
      interval: 0.01,
      axisLine: { show: false },
      axisTick: { show: true, length: 4, lineStyle: { color: '#000' } },
      axisLabel: { show: false },
      splitLine: { show: false },
    },
  ],
  series: [
    {
      name: 'Years',
      type: 'line',
      data: [],
      z: 1,
      markLine: {
        silent: true,
        symbol: ['none', 'none'],
        label: { show: false },
        lineStyle: { color: '#b4b4b4', type: [3, 3], width: 1 },
        data: years.map((y) => ({ xAxis: y })),
      },
    },
    ...fibSeries,
    {
      name: 'Fib labels',
      type: 'scatter',
      symbolSize: 1,
      z: 2,
      silent: true,
      itemStyle: { color: 'rgba(0,0,0,0)' },
      label: {
        show: true,
        position: 'left',
        distance: 6,
        formatter: '{b}',
        color: '#3c3cff',
        fontSize: 9,
        fontFamily: FONT,
      },
      data: fibLevels.map((v, i) => ({ name: fibNames[i], value: [fibStart, v] })),
    },
    plainLine('Upper channel', upperChannel, '#0000ff', 3),
    plainLine('Lower channel', lowerChannel, '#0000ff', 3),
    plainLine('MA long', maLong, '#00e000', 4),
    plainLine('MA slow', maSlow, '#008000', 5),
    plainLine('MA mid', maMid, '#0000ff', 6),
    plainLine('MA fast', maFast, '#ff0000', 7),
    plainLine('Close up', priceUp, '#008000', 8),
    plainLine('Close down', priceDown, '#ff0000', 8),
    plainLine('Projection', projection, '#ff0000', 8),
    {
      name: 'Waves',
      type: 'scatter',
      symbolSize: 1,
      z: 10,
      silent: true,
      itemStyle: { color: 'rgba(0,0,0,0)' },
      label: { show: true, position: 'inside', formatter: '{b}', fontSize: 9, fontFamily: FONT },
      data: waveLabels.map((w) => ({
        name: w[2],
        value: [w[0], w[1]],
        label: {
          color: labelColors[w[3]],
          fontWeight: w[3] === 'degree' ? 'bold' : 'normal',
          fontSize: w[3] === 'degree' ? 10.5 : 9,
        },
      })),
    },
  ],
};

const myChart = echarts.init(document.getElementById('main'));
myChart.setOption(option);
</script>
</body>
</html>
